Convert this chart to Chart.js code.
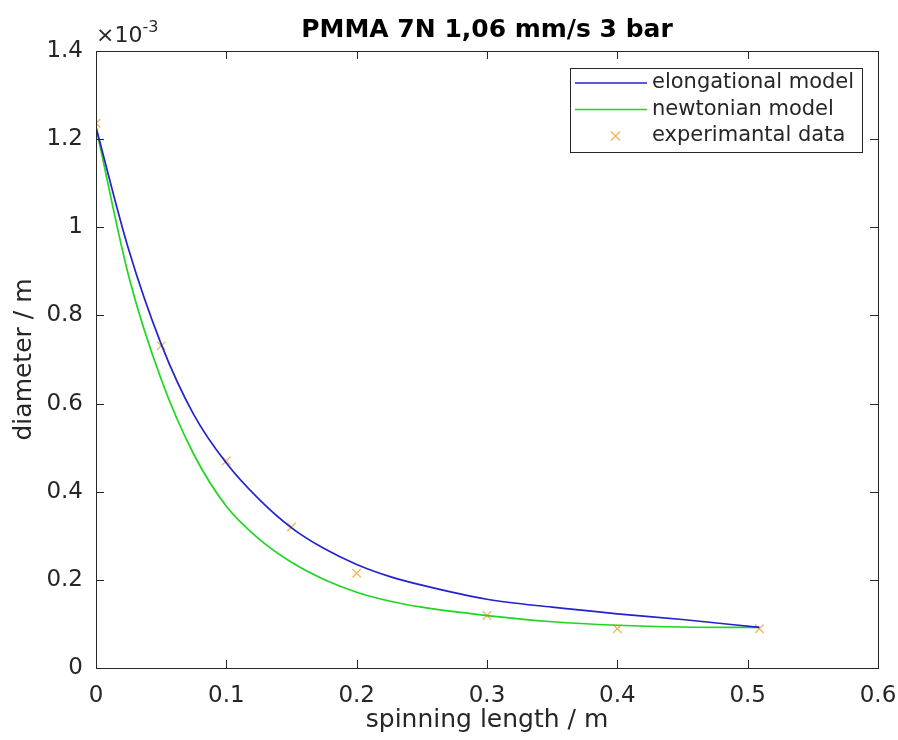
<!DOCTYPE html>
<html>
<head>
<meta charset="utf-8">
<script src="https://cdn.jsdelivr.net/npm/chart.js@4"></script>
<style>
    html, body { margin: 0; padding: 0; background: #fff; }
    #wrap { width: 898px; height: 740px; }
</style>
</head>
<body>
<div id="wrap"><canvas id="grafica"></canvas></div>
<script>
// datos (diametro en unidades de 1e-3 m)
const xModelo = [0, 0.025, 0.05, 0.075, 0.1, 0.125, 0.15, 0.175, 0.2, 0.225, 0.25, 0.3, 0.35, 0.4, 0.45, 0.509];
const yElong = [1.227, 0.95, 0.735, 0.575, 0.465, 0.383, 0.318, 0.271, 0.235, 0.208, 0.188, 0.156, 0.138, 0.123, 0.110, 0.092];
const yNewt = [1.227, 0.89, 0.655, 0.485, 0.367, 0.293, 0.24, 0.201, 0.172, 0.152, 0.138, 0.119, 0.105, 0.097, 0.093, 0.092];

const xExp = [0, 0.05, 0.1, 0.15, 0.2, 0.3, 0.4, 0.509];
const yExp = [1.236, 0.731, 0.47, 0.32, 0.215, 0.119, 0.089, 0.089];

const xTicks = [0, 0.1, 0.2, 0.3, 0.4, 0.5, 0.6];
const yTicks = [0, 0.2, 0.4, 0.6, 0.8, 1, 1.2, 1.4];

const titulo = 'PMMA 7N 1,06 mm/s 3 bar';
const seriesNombres = ['elongational model', 'newtonian model', 'experimantal data'];

const colorTexto = '#262626';
const fuente = '"DejaVu Sans", sans-serif';

function puntos(xs, ys) {
    return xs.map((x, i) => ({ x: x, y: ys[i] }));
}

// caja, ticks hacia dentro, titulo, exponente y leyenda (estilo matlab)
const marcoMatlab = {
    id: 'marcoMatlab',
    afterDraw(chart) {
        const ctx = chart.ctx;
        const a = chart.chartArea;
        const sx = chart.scales.x;
        const sy = chart.scales.y;
        ctx.save();
        ctx.strokeStyle = colorTexto;
        ctx.lineWidth = 1;
        ctx.strokeRect(Math.round(a.left) + 0.5, Math.round(a.top) + 0.5,
            Math.round(a.right - a.left), Math.round(a.bottom - a.top));
        ctx.beginPath();
        xTicks.forEach(v => {
            const px = Math.round(sx.getPixelForValue(v)) + 0.5;
            ctx.moveTo(px, a.bottom); ctx.lineTo(px, a.bottom - 8);
            ctx.moveTo(px, a.top); ctx.lineTo(px, a.top + 8);
        });
        yTicks.forEach(v => {
            const py = Math.round(sy.getPixelForValue(v)) + 0.5;
            ctx.moveTo(a.left, py); ctx.lineTo(a.left + 8, py);
            ctx.moveTo(a.right, py); ctx.lineTo(a.right - 8, py);
        });
        ctx.stroke();

        // titulo
        ctx.fillStyle = '#000';
        ctx.font = 'bold 25px ' + fuente;
        ctx.textAlign = 'center';
        ctx.textBaseline = 'alphabetic';
        ctx.fillText(titulo, (a.left + a.right) / 2, 37);

        // exponente x10^-3
        ctx.fillStyle = colorTexto;
        ctx.textAlign = 'left';
        ctx.font = '22px ' + fuente;
        ctx.fillText('\u00d710', a.left, 42);
        const w = ctx.measureText('\u00d710').width;
        ctx.font = '16px ' + fuente;
        ctx.fillText('-3', a.left + w, 32);

        // leyenda
        const lx = 570, ly = 68, lw = 292, lh = 84;
        ctx.fillStyle = '#fff';
        ctx.fillRect(lx, ly, lw, lh);
        ctx.strokeStyle = colorTexto;
        ctx.lineWidth = 1;
        ctx.strokeRect(lx + 0.5, ly + 0.5, lw, lh);
        ctx.font = '21px ' + fuente;
        ctx.textBaseline = 'middle';
        const ds = chart.data.datasets;
        seriesNombres.forEach((nombre, i) => {
            const yy = ly + 15 + i * 26.5;
            ctx.strokeStyle = ds[i].borderColor;
            ctx.beginPath();
            if (i < 2) {
                ctx.lineWidth = 1.6;
                ctx.moveTo(575, yy); ctx.lineTo(647, yy);
            } else {
                ctx.lineWidth = 1.3;
                ctx.moveTo(611, yy - 4.5); ctx.lineTo(620, yy + 4.5);
                ctx.moveTo(620, yy - 4.5); ctx.lineTo(611, yy + 4.5);
            }
            ctx.stroke();
            ctx.fillStyle = colorTexto;
            ctx.fillText(nombre, 652, yy);
        });
        ctx.restore();
    }
};

const datosDiametro = {
    datasets: [
        {
            label: seriesNombres[0],
            data: puntos(xModelo, yElong),
            borderColor: 'rgb(35,35,205)',
            borderWidth: 1.7,
            pointRadius: 0,
            cubicInterpolationMode: 'monotone',
            showLine: true,
            fill: false
        },
        {
            label: seriesNombres[1],
            data: puntos(xModelo, yNewt),
            borderColor: 'rgb(30,215,30)',
            borderWidth: 1.7,
            pointRadius: 0,
            cubicInterpolationMode: 'monotone',
            showLine: true,
            fill: false
        },
        {
            label: seriesNombres[2],
            data: puntos(xExp, yExp),
            borderColor: 'rgba(237,170,60,0.85)',
            backgroundColor: 'rgba(237,170,60,0.85)',
            pointStyle: 'crossRot',
            pointRadius: 6,
            pointBorderWidth: 1.3,
            showLine: false
        }
    ]
};

const opcionesDiametro = {
    responsive: true,
    maintainAspectRatio: false,
    animation: false,
    layout: { padding: { top: 51, right: 20, left: 0, bottom: 0 } },
    scales: {
        x: {
            type: 'linear',
            min: 0,
            max: 0.6,
            afterBuildTicks: s => { s.ticks = xTicks.map(v => ({ value: v })); },
            afterFit: s => { s.height = 72; s.paddingLeft = 0; s.paddingRight = 0; },
            grid: { display: false, drawTicks: false },
            border: { display: false },
            ticks: {
                color: colorTexto,
                padding: 14,
                font: { family: fuente, size: 23 },
                callback: v => String(+v.toFixed(1))
            },
            title: {
                display: true,
                text: 'spinning length / m',
                color: colorTexto,
                font: { family: fuente, size: 25 },
                padding: { top: 0, bottom: 5 }
            }
        },
        y: {
            type: 'linear',
            min: 0,
            max: 1.4,
            afterBuildTicks: s => { s.ticks = yTicks.map(v => ({ value: v })); },
            afterFit: s => { s.width = 96; s.paddingTop = 0; s.paddingBottom = 0; },
            grid: { display: false, drawTicks: false },
            border: { display: false },
            ticks: {
                color: colorTexto,
                padding: 13,
                font: { family: fuente, size: 23 },
                callback: v => String(+v.toFixed(1))
            },
            title: {
                display: true,
                text: 'diameter / m',
                color: colorTexto,
                font: { family: fuente, size: 25 },
                padding: { top: 9, bottom: 0 }
            }
        }
    },
    plugins: {
        legend: { display: false },
        title: { display: false },
        tooltip: { enabled: false }
    }
};

let ctxDiametro = document.getElementById('grafica');

let miGrafica = new Chart(ctxDiametro, {
    type: 'scatter',
    data: datosDiametro,
    options: opcionesDiametro,
    plugins: [marcoMatlab]
});
</script>
</body>
</html>
